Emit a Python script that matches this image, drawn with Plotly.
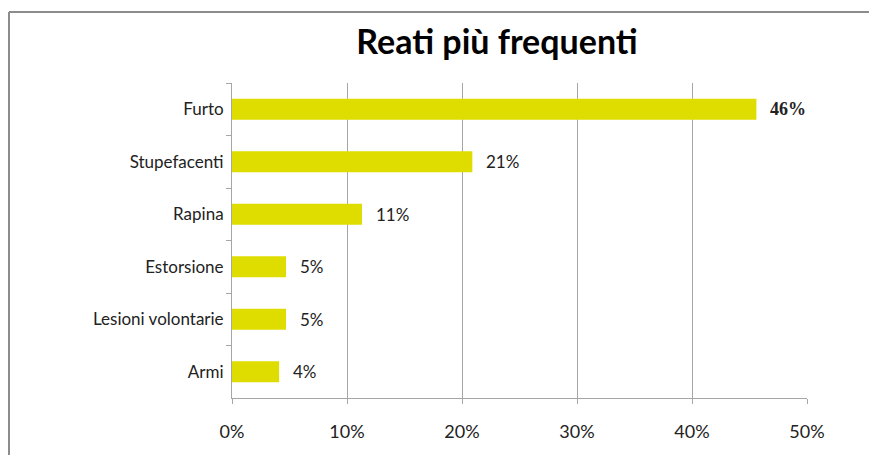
import plotly.graph_objects as go

# data (share of offences)
categories = ["Furto", "Stupefacenti", "Rapina", "Estorsione", "Lesioni volontarie", "Armi"]
shares = [0.456, 0.209, 0.113, 0.047, 0.047, 0.041]
x_ticks = [0, 0.1, 0.2, 0.3, 0.4, 0.5]
x_tick_labels = ["0%", "10%", "20%", "30%", "40%", "50%"]

BAR_COLOR = "#DFDC00"
GRID = "#A6A6A6"
FONT = "Lato, Carlito, Calibri, sans-serif"

fig = go.Figure()

fig.add_trace(go.Bar(
    x=shares,
    y=categories,
    orientation="h",
    marker=dict(color=BAR_COLOR, line=dict(width=0)),
    hoverinfo="skip",
    showlegend=False,
))

# value labels to the right of each bar
for i, (cat, val) in enumerate(zip(categories, shares)):
    first = i == 0
    fig.add_annotation(
        x=val, y=cat,
        text=f"{val:.0%}",
        showarrow=False,
        xanchor="left", yanchor="middle",
        xshift=12,
        font=dict(
            family="Liberation Serif, serif" if first else FONT,
            size=18 if first else 17, color="#222222",
            weight="bold" if first else "normal",
        ),
    )

# page body has an 8px margin, so keep the figure inside the window (no scrollbars)
W, H = 861, 447
L, R, T, B = 224, 62, 75, 57
pw, ph = W - L - R, H - T - B
def px(x):
    return (x - L) / pw
def py(y):
    return (H - B - y) / ph

# chart frame: only top and left edges visible
frame = dict(color="#8C8C8C", width=2)
fig.add_shape(type="line", xref="paper", yref="paper",
              x0=px(1), x1=px(W + 5), y0=py(4), y1=py(4), line=frame)
fig.add_shape(type="line", xref="paper", yref="paper",
              x0=px(1), x1=px(1), y0=py(4), y1=py(H + 5), line=frame)

fig.update_layout(
    width=W, height=H,
    margin=dict(l=L, r=R, t=T, b=B),
    paper_bgcolor="white",
    plot_bgcolor="white",
    bargap=0.6,
    font=dict(family=FONT, size=17, color="#222222"),
    title=dict(
        text="Reati più frequenti",
        x=489 / W, xanchor="center",
        y=1 - 34 / H, yanchor="middle",
        font=dict(family=FONT, size=34, color="#000000", weight="bold"),
    ),
    xaxis=dict(
        range=[0, 0.5],
        tickvals=x_ticks,
        ticktext=x_tick_labels,
        showgrid=True, gridcolor=GRID, gridwidth=1,
        zeroline=False,
        showline=True, linecolor=GRID, linewidth=1,
        ticks="outside", ticklen=5, tickcolor=GRID,
        ticklabelstandoff=12,
        tickfont=dict(size=18),
        fixedrange=True,
    ),
    yaxis=dict(
        autorange="reversed",
        showgrid=False,
        showline=True, linecolor=GRID, linewidth=1,
        ticks="outside", ticklen=5, tickcolor=GRID,
        tickson="boundaries",
        ticklabelstandoff=4,
        tickfont=dict(size=17),
        fixedrange=True,
    ),
)

fig.write_html("out.html")
